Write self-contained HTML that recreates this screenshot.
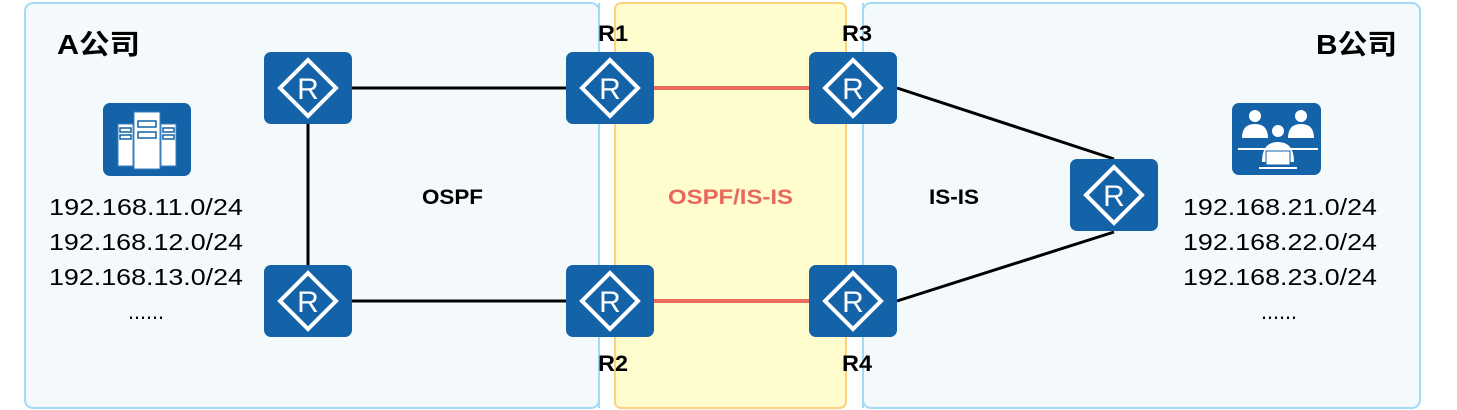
<!DOCTYPE html>
<html><head><meta charset="utf-8"><style>html,body{margin:0;padding:0;background:#fff}svg{display:block}</style></head>
<body>
<svg width="1457" height="410" viewBox="0 0 1457 410" xmlns="http://www.w3.org/2000/svg" font-family="Liberation Sans, 'Noto Sans CJK SC', sans-serif">
<defs>
<g id="rt">
<rect x="0" y="0" width="88" height="72" rx="7" fill="#1462a8"/>
<polygon points="44,8 72,36 44,64 16,36" fill="none" stroke="#fff" stroke-width="4"/>
<text x="44" y="47" text-anchor="middle" font-size="30" fill="#fff" font-family="Liberation Sans, sans-serif">R</text>
</g>
</defs>
<rect x="25" y="3" width="574" height="405" rx="8" fill="#f4f9fc" stroke="#a2dcf4" stroke-width="2"/>
<rect x="863" y="3" width="557" height="405" rx="8" fill="#f4f9fc" stroke="#a2dcf4" stroke-width="2"/>
<rect x="615" y="3" width="231" height="405" rx="6" fill="#fffdcd" stroke="#fdd27f" stroke-width="2"/>
<line x1="599" y1="3" x2="599" y2="408" stroke="#a2dcf4" stroke-width="2"/>
<line x1="863" y1="3" x2="863" y2="408" stroke="#a2dcf4" stroke-width="2"/>
<g stroke="#000" stroke-width="3">
<line x1="352" y1="88" x2="566" y2="88"/>
<line x1="308" y1="124" x2="308" y2="265"/>
<line x1="352" y1="301" x2="566" y2="301"/>
<line x1="897" y1="88" x2="1114" y2="159"/>
<line x1="897" y1="301" x2="1114" y2="232"/>
</g>
<g stroke="#ec6d5e" stroke-width="4">
<line x1="654" y1="88" x2="809" y2="88"/>
<line x1="654" y1="301" x2="809" y2="301"/>
</g>
<use href="#rt" x="264" y="52"/>
<use href="#rt" x="264" y="265"/>
<use href="#rt" x="566" y="52"/>
<use href="#rt" x="566" y="265"/>
<use href="#rt" x="809" y="52"/>
<use href="#rt" x="809" y="265"/>
<use href="#rt" x="1070" y="159"/>
<!-- server icon -->
<rect x="103" y="103" width="88" height="73" rx="7" fill="#1462a8"/>
<g fill="#fff" stroke="#3a7fc0" stroke-width="1">
<rect x="118" y="124" width="15" height="42"/>
<rect x="134" y="112" width="26" height="57"/>
<rect x="161" y="124" width="15" height="42"/>
</g>
<g fill="none" stroke="#1462a8" stroke-width="1.5">
<rect x="138" y="121" width="18" height="6"/><rect x="138" y="132" width="18" height="6"/>
<rect x="120" y="128" width="11" height="4"/><rect x="120" y="135" width="11" height="4"/>
<rect x="163" y="128" width="11" height="4"/><rect x="163" y="135" width="11" height="4"/>
</g>
<!-- people icon -->
<rect x="1232" y="103" width="89" height="72" rx="7" fill="#1462a8"/>
<g fill="#fff">
<circle cx="1255" cy="116" r="6"/><path d="M1242 138 q0-14 13-14 q13 0 13 14z"/>
<circle cx="1301" cy="116" r="6"/><path d="M1288 138 q0-14 13-14 q13 0 13 14z"/>
<rect x="1238" y="148" width="80" height="2"/>
<circle cx="1278" cy="131" r="6"/><path d="M1262 162 q0-20 16-20 q16 0 16 20z"/>
<rect x="1259" y="167" width="38" height="2"/>
</g>
<g fill="#fff" stroke="#1462a8" stroke-width="1"><rect x="1266" y="151" width="24" height="14"/></g>
<g font-weight="bold" fill="#000">
<text x="57" y="54" font-size="28" textLength="83" lengthAdjust="spacingAndGlyphs">A公司</text>
<text x="1316" y="54" font-size="28" textLength="81" lengthAdjust="spacingAndGlyphs">B公司</text>
<text x="598" y="41" font-size="22" textLength="30" lengthAdjust="spacingAndGlyphs">R1</text>
<text x="842" y="41" font-size="22" textLength="30" lengthAdjust="spacingAndGlyphs">R3</text>
<text x="598" y="371" font-size="22" textLength="30" lengthAdjust="spacingAndGlyphs">R2</text>
<text x="842" y="371" font-size="22" textLength="30" lengthAdjust="spacingAndGlyphs">R4</text>
<text x="422" y="204" font-size="21" textLength="61" lengthAdjust="spacingAndGlyphs">OSPF</text>
<text x="929" y="204" font-size="21" textLength="50" lengthAdjust="spacingAndGlyphs">IS-IS</text>
<text x="668" y="204" font-size="21" fill="#e8695b" textLength="125" lengthAdjust="spacingAndGlyphs">OSPF/IS-IS</text>
</g>
<g font-size="23" fill="#000">
<text x="49" y="215" textLength="194" lengthAdjust="spacingAndGlyphs">192.168.11.0/24</text>
<text x="49" y="250" textLength="194" lengthAdjust="spacingAndGlyphs">192.168.12.0/24</text>
<text x="49" y="285" textLength="194" lengthAdjust="spacingAndGlyphs">192.168.13.0/24</text>
<text x="128" y="319" textLength="36" lengthAdjust="spacingAndGlyphs">......</text>
<text x="1183" y="215" textLength="194" lengthAdjust="spacingAndGlyphs">192.168.21.0/24</text>
<text x="1183" y="250" textLength="194" lengthAdjust="spacingAndGlyphs">192.168.22.0/24</text>
<text x="1183" y="285" textLength="194" lengthAdjust="spacingAndGlyphs">192.168.23.0/24</text>
<text x="1261" y="319" textLength="36" lengthAdjust="spacingAndGlyphs">......</text>
</g>
</svg>
</body></html>
